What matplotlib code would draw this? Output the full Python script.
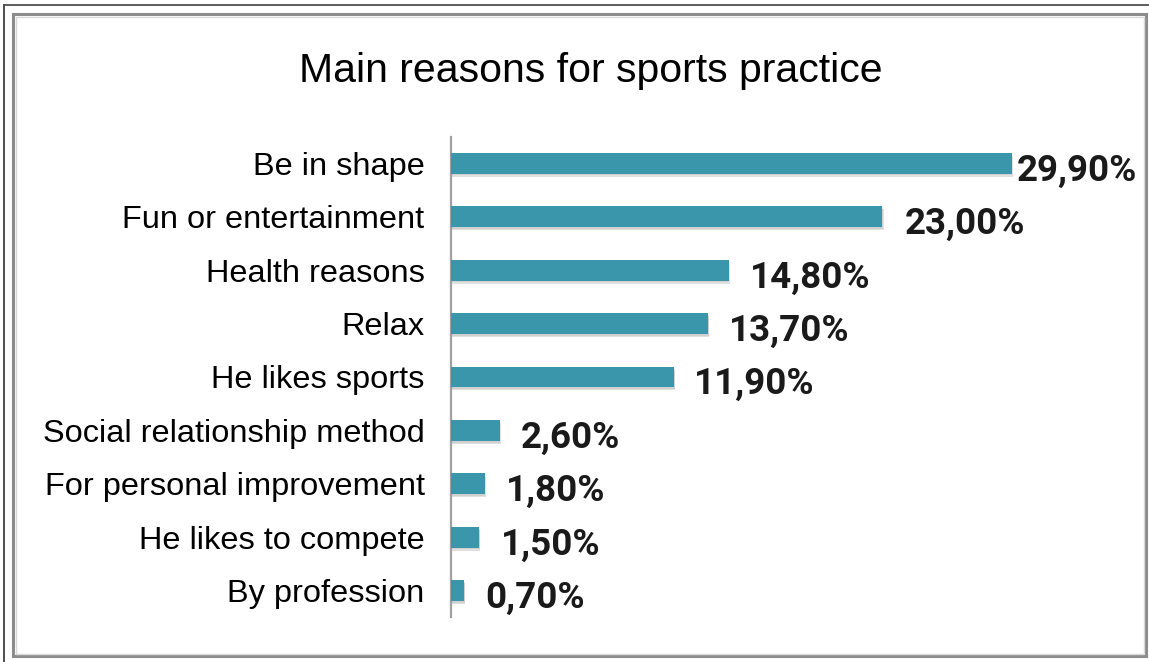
import matplotlib
matplotlib.use("Agg")
import matplotlib.pyplot as plt
import matplotlib.patheffects as pe
from matplotlib.lines import Line2D
from matplotlib.patches import Rectangle

categories = ["Be in shape", "Fun or entertainment", "Health reasons", "Relax",
              "He likes sports", "Social relationship method",
              "For personal improvement", "He likes to compete", "By profession"]
values = [29.9, 23.0, 14.8, 13.7, 11.9, 2.6, 1.8, 1.5, 0.7]
value_labels = ["29,90%", "23,00%", "14,80%", "13,70%", "11,90%",
                "2,60%", "1,80%", "1,50%", "0,70%"]
label_gap_pt = [3.4, 16, 15, 15, 14.5, 15, 15.5, 15.5, 15]

W, H, DPI = 1149, 662, 100
fig = plt.figure(figsize=(W / DPI, H / DPI), dpi=DPI)
fig.patch.set_facecolor("white")

def fx(px):
    return px / W
def fy(py):
    return 1 - py / H

fig.add_artist(Line2D([fx(4), fx(4)], [0, fy(5)], color="#404040", lw=1.3, transform=fig.transFigure))
fig.add_artist(Line2D([fx(4), 1], [fy(5), fy(5)], color="#505050", lw=1.3, transform=fig.transFigure))
fig.add_artist(Rectangle((fx(13), fy(656)), fx(1146) - fx(13), fy(14) - fy(656),
                         fill=False, ec="#8c8c8c", lw=2.2, transform=fig.transFigure))
fig.add_artist(Rectangle((fx(15.5), fy(653.5)), fx(1143.5) - fx(15.5), fy(16.5) - fy(653.5),
                         fill=False, ec="#d9d9d9", lw=1.0, transform=fig.transFigure))

left_px, right_px = 451, 451 + 32 * 18.76
top_px, bot_px = 137, 617
ax = fig.add_axes([fx(left_px), fy(bot_px), fx(right_px) - fx(left_px), fy(top_px) - fy(bot_px)])
ax.set_facecolor("none")

ypos = list(range(len(categories)))
bars = ax.barh(ypos, values, height=0.39, color="#3a96aa", zorder=3)
for b in bars:
    b.set_path_effects([pe.SimplePatchShadow(offset=(0.8, -2.2), shadow_rgbFace="#909090", alpha=0.28),
                        pe.SimplePatchShadow(offset=(0.4, -1.2), shadow_rgbFace="#909090", alpha=0.2),
                        pe.Normal()])

ax.set_xlim(0, 32)
ax.set_ylim(len(categories) - 0.51, -0.49)
ax.set_yticks(ypos)
ax.set_yticklabels(categories, fontsize=23.4, family=["Liberation Sans", "DejaVu Sans"], color="black")
ax.tick_params(axis="y", length=0, pad=19)
ax.set_xticks([])
for s in ["top", "right", "bottom"]:
    ax.spines[s].set_visible(False)
ax.spines["left"].set_color("#a0a0a0")
ax.spines["left"].set_linewidth(1.6)

for i, (v, lab, gap) in enumerate(zip(values, value_labels, label_gap_pt)):
    ax.annotate(lab, xy=(v, i), xytext=(gap, -12.5), textcoords="offset points",
                ha="left", va="baseline", fontsize=26.5, fontweight="bold",
                family=["Roboto", "DejaVu Sans"], color="#1a1a1a", annotation_clip=False)

fig.text(fx(591), fy(71), "Main reasons for sports practice", ha="center", va="center",
         fontsize=29.5, family=["Liberation Sans", "DejaVu Sans"], color="black")

fig.savefig("out.png", dpi=DPI)
